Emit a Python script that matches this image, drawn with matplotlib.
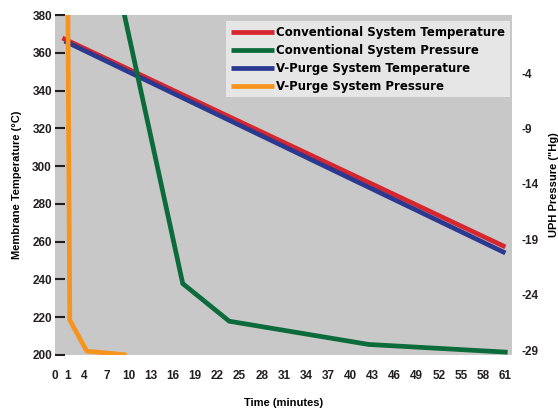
import numpy as np
import matplotlib
matplotlib.use("Agg")
import matplotlib.pyplot as plt
import matplotlib.transforms as mtransforms

# time axis ticks (minutes)
time_ticks = [0, 1, 4, 7, 10, 13, 16, 19, 22, 25, 28, 31, 34, 37, 40, 43, 46, 49, 52, 55, 58, 61]
temp_ticks = [200, 220, 240, 260, 280, 300, 320, 340, 360, 380]
press_ticks = [-29, -24, -19, -14, -9, -4]

# membrane temperature (C)
conv_temp_t = [1, 61]
conv_temp = [367.8, 257.2]
vp_temp_t = [1.3, 61]
vp_temp = [366.2, 254.0]

# UPH pressure ("Hg)
conv_press_t = [9.0, 17.3, 23.6, 42.5, 61.3]
conv_press = [2.5, -23.0, -26.4, -28.5, -29.2]
vp_press_t = [1.75, 2.0, 4.3, 9.7]
vp_press = [1.3, -26.3, -29.1, -29.45]

red = '#d7262e'
green = '#0b6b3a'
blue = '#2b3990'
orange = '#f7941d'
txt = '#231f20'

plt.rcParams['font.family'] = ['Liberation Sans', 'DejaVu Sans']

fig = plt.figure(figsize=(5.58, 4.11), dpi=100)
ax = fig.add_axes([0.0986, 0.1363, 0.8190, 0.8272])
ax.set_facecolor('#c8c8c8')
ax2 = ax.twinx()

lw = 3.4
l1, = ax.plot(conv_temp_t, conv_temp, color=red, lw=lw, solid_capstyle='butt')
l3, = ax.plot(vp_temp_t, vp_temp, color=blue, lw=lw, solid_capstyle='butt')
l2, = ax2.plot(conv_press_t, conv_press, color=green, lw=lw, solid_capstyle='butt')
l4, = ax2.plot(vp_press_t, vp_press, color=orange, lw=lw, solid_capstyle='butt')

ax.set_xlim(0, 61.9)
ax.set_ylim(200, 380)
ax2.set_ylim(-29.45, 1.27)

for s in list(ax.spines.values()) + list(ax2.spines.values()):
    s.set_visible(False)

tfs = 8.5
ax.set_xticks(time_ticks)
ax.set_xticklabels([str(t) for t in time_ticks], fontsize=tfs, fontweight='bold', color=txt)
ax.tick_params(axis='x', length=0, pad=11)
ax.set_yticks(temp_ticks)
ax.set_yticklabels([str(t) for t in temp_ticks], fontsize=tfs, fontweight='bold', color=txt)
ax.tick_params(axis='y', direction='in', length=7, width=1.5, color='#231f20', pad=-5)
for lab in ax.get_yticklabels():
    lab.set_transform(lab.get_transform() + mtransforms.ScaledTranslation(-0.10, 0, fig.dpi_scale_trans))
# hand-spaced "1" label
lab1 = ax.get_xticklabels()[1]
lab1.set_transform(lab1.get_transform() + mtransforms.ScaledTranslation(0.05, 0, fig.dpi_scale_trans))

ax2.set_yticks(press_ticks)
ax2.set_yticklabels([str(t) for t in press_ticks], fontsize=tfs, fontweight='bold', color=txt)
ax2.tick_params(axis='y', length=0, pad=7)

ax.set_xlabel('Time (minutes)', fontsize=8, fontweight='bold', color='black', labelpad=11)
ax.set_ylabel('Membrane Temperature (°C)', fontsize=8, fontweight='bold', color='black', labelpad=7)
ax2.set_ylabel('UPH Pressure ("Hg)', fontsize=8, fontweight='bold', color='black', labelpad=7)

leg = ax2.legend([l1, l2, l3, l4],
                 ['Conventional System Temperature', 'Conventional System Pressure',
                  'V-Purge System Temperature', 'V-Purge System Pressure'],
                 loc='upper right', bbox_to_anchor=(0.995, 0.982), frameon=True, fancybox=False,
                 prop={'family': 'DejaVu Sans', 'weight': 'bold', 'size': 8.5},
                 handlelength=3.6, handletextpad=0.2, labelspacing=0.42, borderpad=0.4,
                 borderaxespad=0)
leg.get_frame().set_facecolor('#e6e6e6')
leg.get_frame().set_edgecolor('none')
leg.get_frame().set_alpha(1)

fig.savefig('out.png', dpi=100)
